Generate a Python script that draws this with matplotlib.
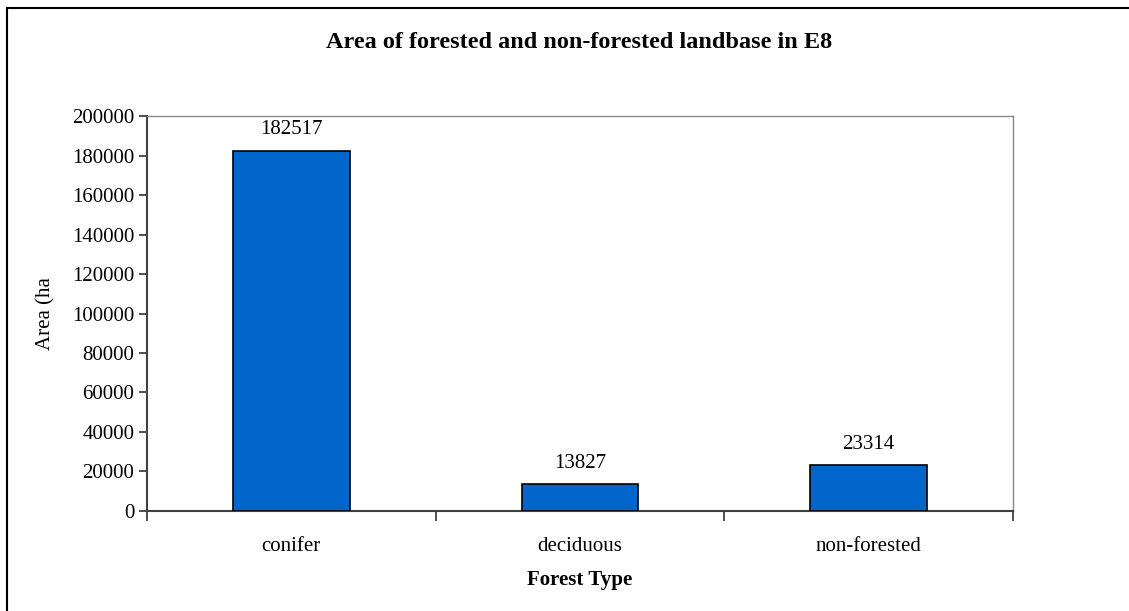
import matplotlib.pyplot as plt
import numpy as np
from matplotlib.lines import Line2D

categories = ["conifer", "deciduous", "non-forested"]
areas = [182517, 13827, 23314]
y_ticks = list(range(0, 200001, 20000))

plt.rcParams["font.family"] = ["Liberation Serif", "DejaVu Serif"]

fig = plt.figure(figsize=(11.29, 6.11), dpi=100)
ax = fig.add_axes([0.1302, 0.1637, 0.7671, 0.6464])

x = np.arange(len(categories))
bars = ax.bar(x, areas, width=0.405, color="#0066CC", edgecolor="black", linewidth=1.2, zorder=3)

# value labels above each bar
for xi, v in zip(x, areas):
    ax.annotate(str(v), (xi, v), xytext=(0, 8), textcoords="offset points",
                ha="center", va="bottom", fontsize=15)

ax.set_xlim(-0.5, len(categories) - 0.5)
ax.set_ylim(0, 200000)
ax.set_yticks(y_ticks)
ax.set_yticklabels([str(t) for t in y_ticks], fontsize=15)

# category labels centred, tick marks on the boundaries
ax.set_xticks(x)
ax.set_xticklabels(categories, fontsize=15)
ax.tick_params(axis="x", which="major", length=0, pad=19)
ax.set_xticks(np.arange(-0.5, len(categories)), minor=True)
ax.tick_params(axis="x", which="minor", length=7, width=1.2, color="#303030", direction="out")
ax.tick_params(axis="y", length=6, width=1.2, color="#303030", direction="out", pad=3)

for side in ["left", "bottom"]:
    ax.spines[side].set_color("#404040")
    ax.spines[side].set_linewidth(1.5)
for side in ["top", "right"]:
    ax.spines[side].set_color("#888888")
    ax.spines[side].set_linewidth(1.0)

ax.set_ylabel("Area (ha", fontsize=15, labelpad=12)
ax.set_xlabel("Forest Type", fontsize=15, fontweight="bold", labelpad=10)
fig.text(0.5125, 0.93, "Area of forested and non-forested landbase in E8",
         ha="center", va="center", fontsize=17.5, fontweight="bold")

# outer frame, only left and top edges fall inside the image
fig.add_artist(Line2D([0.0066, 0.0066], [0, 0.987], color="black", lw=1.5, transform=fig.transFigure))
fig.add_artist(Line2D([0.0066, 1.0], [0.987, 0.987], color="black", lw=1.5, transform=fig.transFigure))

fig.savefig("out.png", dpi=100)
